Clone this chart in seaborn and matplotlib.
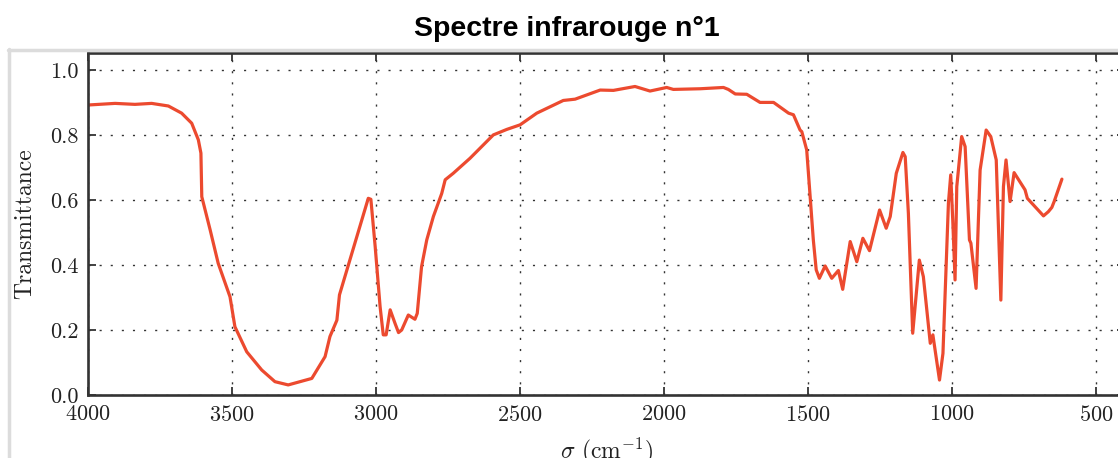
import seaborn as sns
import matplotlib.pyplot as plt
from matplotlib.lines import Line2D
import pandas as pd

# wavenumber (cm-1) and transmittance
sigma = [4000, 3906, 3837, 3779, 3721, 3675, 3640, 3617, 3608, 3605,
         3576, 3548, 3507, 3490, 3449, 3397, 3351, 3305, 3223, 3177,
         3160, 3136, 3127, 3027, 3018, 3003, 2986, 2975, 2965, 2951,
         2934, 2922, 2911, 2888, 2865, 2857, 2842, 2824, 2801, 2772,
         2760, 2732, 2674, 2593, 2546, 2500, 2442, 2350, 2309, 2222,
         2176, 2101, 2049, 1991, 1968, 1875, 1794, 1777, 1753, 1713,
         1667, 1620, 1568, 1551, 1528, 1522, 1505, 1493, 1482, 1472,
         1461, 1441, 1418, 1395, 1380, 1354, 1331, 1310, 1287, 1252,
         1229, 1215, 1194, 1171, 1163, 1152, 1137, 1114, 1100, 1076,
         1067, 1044, 1032, 1013, 1005, 998, 990, 984, 967, 955,
         940, 935, 917, 903, 882, 866, 847, 831, 822, 813,
         799, 785, 747, 739, 683, 666, 654, 646, 619]
transmittance = [0.892, 0.897, 0.894, 0.897, 0.889, 0.867, 0.836, 0.785, 0.744, 0.610,
                 0.508, 0.405, 0.302, 0.210, 0.133, 0.077, 0.041, 0.031, 0.051, 0.118,
                 0.180, 0.230, 0.308, 0.605, 0.602, 0.456, 0.272, 0.185, 0.185, 0.262,
                 0.220, 0.192, 0.200, 0.246, 0.233, 0.251, 0.395, 0.477, 0.549, 0.620,
                 0.662, 0.682, 0.728, 0.800, 0.817, 0.831, 0.867, 0.906, 0.910, 0.938,
                 0.937, 0.949, 0.935, 0.946, 0.940, 0.942, 0.946, 0.940, 0.926, 0.925,
                 0.900, 0.900, 0.867, 0.862, 0.815, 0.810, 0.754, 0.610, 0.477, 0.385,
                 0.359, 0.397, 0.359, 0.383, 0.325, 0.472, 0.410, 0.482, 0.444, 0.569,
                 0.513, 0.549, 0.682, 0.746, 0.733, 0.559, 0.190, 0.415, 0.364, 0.159,
                 0.185, 0.046, 0.128, 0.590, 0.677, 0.538, 0.354, 0.641, 0.795, 0.764,
                 0.477, 0.467, 0.328, 0.692, 0.815, 0.795, 0.723, 0.292, 0.641, 0.723,
                 0.595, 0.684, 0.631, 0.605, 0.551, 0.564, 0.577, 0.595, 0.664]

xticks = [4000, 3500, 3000, 2500, 2000, 1500, 1000, 500]
yticks = [0.0, 0.2, 0.4, 0.6, 0.8, 1.0]

df = pd.DataFrame({"sigma": sigma, "T": transmittance})

sns.set_style("ticks")
plt.rcParams["font.family"] = ["cmr10", "DejaVu Serif"]
plt.rcParams["mathtext.fontset"] = "cm"
plt.rcParams["axes.formatter.use_mathtext"] = True

fig = plt.figure(figsize=(11.18, 4.58), dpi=100)
ax = fig.add_axes([88 / 1118, 63 / 458, 1037 / 1118, 342 / 458])

sns.lineplot(data=df, x="sigma", y="T", sort=False, estimator=None,
             color="#ec4a2f", linewidth=2.3, ax=ax)

ax.set_xlim(4000, 400)
ax.set_ylim(0, 1.052)
ax.set_xticks(xticks)
ax.set_yticks(yticks)
ax.set_yticklabels([f"{v:.1f}" for v in yticks])
ax.grid(True, color="#333333", linestyle=(0, (1.5, 6.5)), linewidth=1.0)
ax.tick_params(direction="in", length=6, width=1.3, colors="#333333",
               labelcolor="#222222", labelsize=16, pad=7,
               top=True, right=True)
for s in ax.spines.values():
    s.set_linewidth(1.9)
    s.set_color("#333333")

ax.set_xlabel(r"$\sigma$ (cm$^{-1}$)", fontsize=17, labelpad=8, color="#222222")
ax.set_ylabel("Transmittance", fontsize=17, labelpad=10, color="#222222")

fig.text(0.507, 1 - 29 / 458, "Spectre infrarouge n°1", ha="center", va="center",
         fontsize=20.5, fontweight="bold", color="black",
         family=["Liberation Sans", "DejaVu Sans"])

# light grey frame of the output cell
fig.add_artist(Line2D([9 / 1118, 9 / 1118], [0, 1 - 49 / 458], transform=fig.transFigure,
                      color="#dcdcdc", linewidth=2.5))
fig.add_artist(Line2D([8 / 1118, 1], [1 - 49.5 / 458, 1 - 49.5 / 458],
                      transform=fig.transFigure, color="#dcdcdc", linewidth=2.5))

fig.savefig("out.png", dpi=100)
